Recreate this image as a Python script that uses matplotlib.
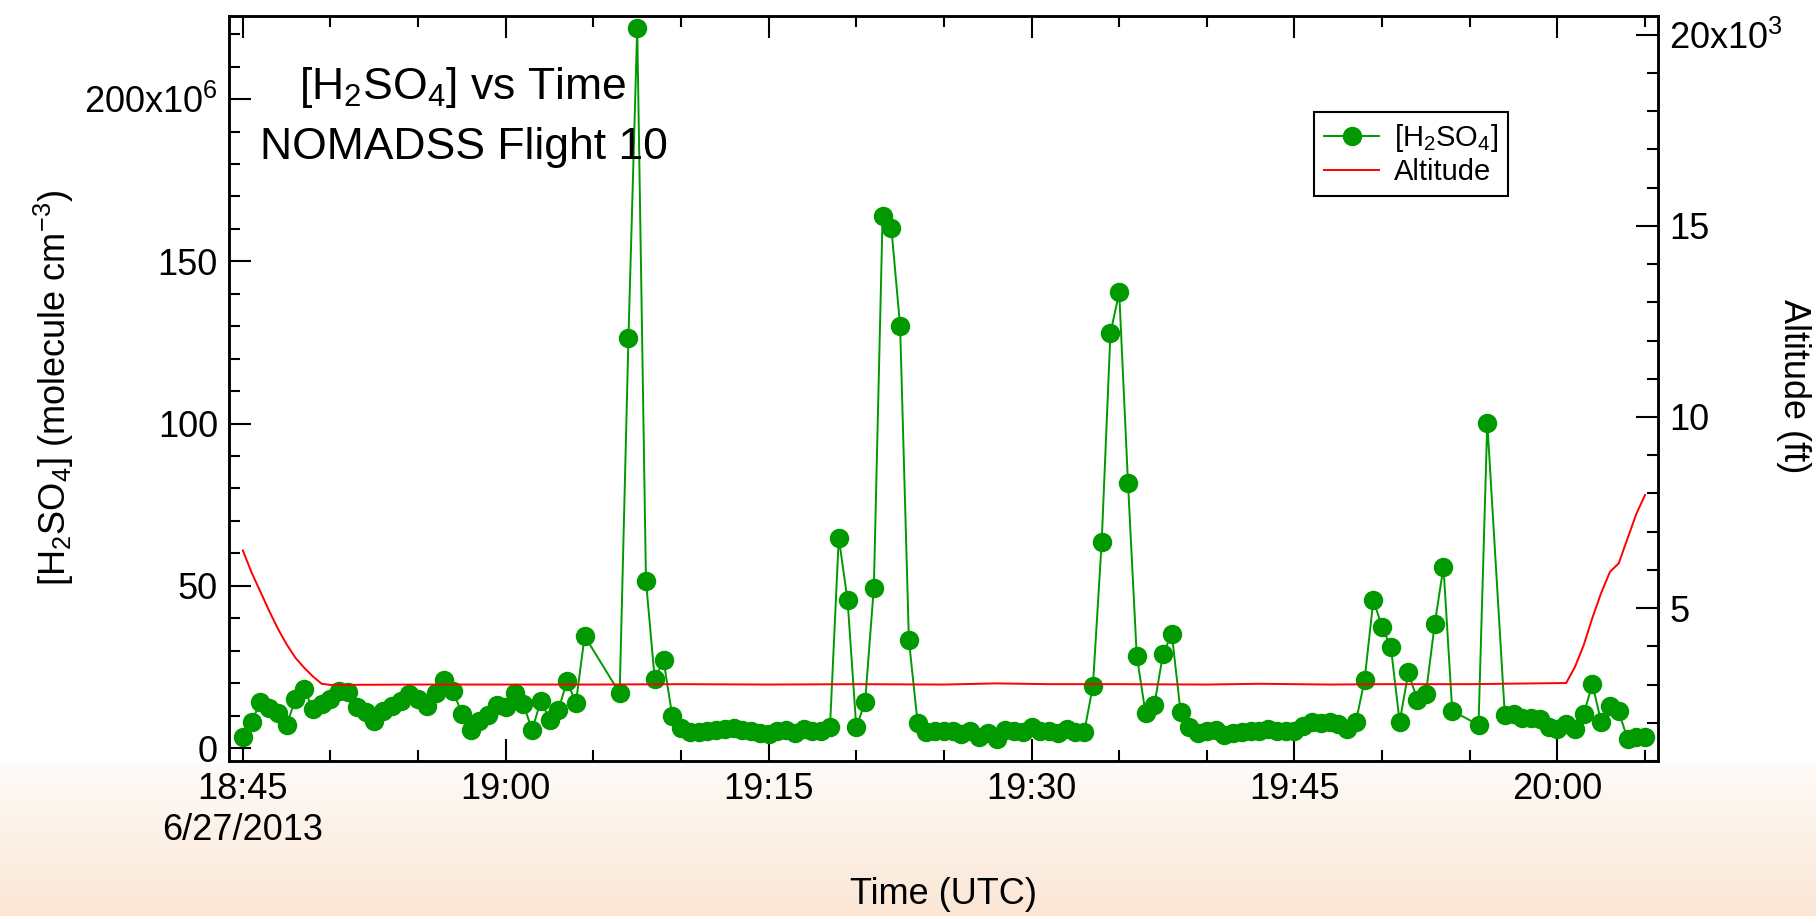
import numpy as np
import matplotlib.pyplot as plt
from matplotlib.ticker import MultipleLocator, FixedLocator, FuncFormatter

plt.rcParams['font.family'] = ['Liberation Sans', 'DejaVu Sans']
plt.rcParams['mathtext.fontset'] = 'custom'
plt.rcParams['mathtext.rm'] = 'Liberation Sans'
plt.rcParams['mathtext.it'] = 'Liberation Sans:italic'
plt.rcParams['mathtext.bf'] = 'Liberation Sans:bold'

# minutes after 18:45 UTC on 6/27/2013
h2so4_time = [0.0, 0.5, 1.0, 1.5, 2.0, 2.5, 3.0, 3.5, 4.0, 4.5,
              5.0, 5.5, 6.0, 6.5, 7.0, 7.5, 8.0, 8.5, 9.0, 9.5,
              10.0, 10.5, 11.0, 11.5, 12.0, 12.5, 13.0, 13.5, 14.0, 14.5,
              15.0, 15.5, 16.0, 16.5, 17.0, 17.5, 18.0, 18.5, 19.0, 19.5,
              21.5, 22.0, 22.5, 23.0, 23.5, 24.0, 24.5,
              25.0, 25.5, 26.0, 26.5, 27.0, 27.5, 28.0, 28.5, 29.0, 29.5,
              30.0, 30.5, 31.0, 31.5, 32.0, 32.5, 33.0, 33.5, 34.0, 34.5,
              35.0, 35.5, 36.0, 36.5, 37.0, 37.5, 38.0, 38.5, 39.0, 39.5,
              40.0, 40.5, 41.0, 41.5, 42.0, 42.5, 43.0, 43.5, 44.0, 44.5,
              45.0, 45.5, 46.0, 46.5, 47.0, 47.5, 48.0, 48.5, 49.0, 49.5,
              50.0, 50.5, 51.0, 51.5, 52.0, 52.5, 53.0, 53.5, 54.0, 54.5,
              55.0, 55.5, 56.0, 56.5, 57.0, 57.5, 58.0, 58.5, 59.0, 59.5,
              60.0, 60.5, 61.0, 61.5, 62.0, 62.5, 63.0, 63.5, 64.0, 64.5,
              65.0, 65.5, 66.0, 66.5, 67.0, 67.5, 68.0, 68.5, 69.0,
              70.5, 71.0, 72.0, 72.5, 73.0, 73.5, 74.0, 74.5,
              75.0, 75.5, 76.0, 76.5, 77.0, 77.5, 78.0, 78.5, 79.0, 79.5, 80.0]

# [H2SO4] in 1e6 molecule cm-3
h2so4_val = [3.3, 7.9, 14.3, 12.3, 10.8, 7.1, 15.1, 18.2, 12.0, 13.5,
             15.1, 17.6, 17.4, 12.5, 11.0, 8.4, 11.3, 12.8, 14.6, 16.6,
             15.1, 12.8, 17.1, 21.0, 17.6, 10.5, 5.6, 8.4, 10.2, 13.2,
             12.5, 16.9, 13.7, 5.5, 14.6, 8.7, 11.7, 20.7, 13.8, 34.5,
             16.9, 126.4, 222.0, 51.5, 21.2, 27.1, 9.9,
             6.1, 5.0, 5.0, 5.3, 5.6, 5.8, 6.2, 5.5, 5.3, 4.6,
             4.3, 5.3, 5.5, 4.6, 5.8, 5.1, 5.1, 6.6, 64.8, 45.6,
             6.4, 14.1, 49.4, 163.9, 160.2, 130.0, 33.3, 7.7, 5.0, 5.1,
             5.3, 5.3, 4.3, 5.1, 3.5, 4.6, 2.8, 5.5, 5.1, 5.0,
             6.6, 5.3, 5.3, 4.6, 5.8, 4.8, 4.8, 19.2, 63.5, 127.9,
             140.4, 81.8, 28.5, 10.8, 13.2, 28.9, 35.2, 11.2, 6.4, 4.6,
             5.1, 5.6, 4.0, 4.6, 4.8, 5.1, 5.3, 5.8, 5.3, 5.1,
             5.3, 6.9, 7.9, 7.7, 7.9, 7.4, 5.8, 7.9, 21.0, 45.6,
             37.3, 31.0, 8.1, 23.3, 14.9, 16.8, 38.2, 55.8, 11.5,
             7.1, 100.3, 10.2, 10.5, 9.4, 9.4, 8.9, 6.4,
             5.8, 7.4, 5.8, 10.5, 19.7, 7.9, 13.0, 11.3, 2.8, 3.3, 3.3]

alt_time = [0.0, 0.5, 1.0, 1.5, 2.0, 2.5, 3.0, 3.5, 4.0, 4.5, 5.0,
            10.0, 15.0, 20.0, 25.0, 30.0, 35.0, 40.0, 43.0, 46.0, 50.0,
            55.0, 58.0, 62.0, 65.0, 70.0, 75.5, 76.0, 76.5, 77.0, 77.5,
            78.0, 78.5, 79.0, 79.5, 80.0]
alt_ft = [6510, 5930, 5430, 4930, 4460, 4050, 3700, 3440, 3210, 3020, 2990,
          3000, 3000, 3000, 3010, 3000, 3010, 3000, 3030, 3010, 3010,
          3000, 3020, 3000, 3010, 3010, 3040, 3460, 4030, 4750, 5400,
          5950, 6170, 6820, 7460, 7960]

tick_pos = [0, 15, 30, 45, 60, 75]
tick_lab = ['18:45\n6/27/2013', '19:00', '19:15', '19:30', '19:45', '20:00']

GREEN = '#009900'

fig = plt.figure(figsize=(18.16, 9.16), dpi=100)

# peach gradient strip at the bottom
bg = fig.add_axes([0, 0, 1, 0.168], zorder=-10)
top_c = np.array([254, 251, 248]) / 255
bot_c = np.array([251, 230, 213]) / 255
frac = np.linspace(0, 1, 200)[:, None, None]
bg.imshow(top_c + (bot_c - top_c) * frac, aspect='auto', extent=[0, 1, 0, 1])
bg.axis('off')

ax = fig.add_axes([229/1816, 1 - 761/916, (1658-229)/1816, (761-16)/916])
ax.plot(h2so4_time, h2so4_val, '-o', color=GREEN, lw=1.4, ms=13,
        mec=GREEN, label=r'[H$_2$SO$_4$]')
ax.set_xlim(-0.79, 80.74)
ax.set_ylim(-4.0, 225.6)

ax2 = ax.twinx()
ax2.plot(alt_time, alt_ft, color='red', lw=1.4, label='Altitude')
ax2.set_ylim(1000, 20490)

ax.xaxis.set_major_locator(FixedLocator(tick_pos))
ax.set_xticklabels(tick_lab)
ax.xaxis.set_minor_locator(MultipleLocator(5))
ax.yaxis.set_major_locator(MultipleLocator(50))
ax.yaxis.set_minor_locator(MultipleLocator(10))
ax.yaxis.set_major_formatter(FuncFormatter(
    lambda v, p: r'200x10$^{6}$' if round(v) == 200 else f'{v:.0f}'))

ax2.yaxis.set_major_locator(MultipleLocator(5000))
ax2.yaxis.set_minor_locator(MultipleLocator(1000))
ax2.yaxis.set_major_formatter(FuncFormatter(
    lambda v, p: r'20x10$^{3}$' if round(v) == 20000 else f'{v/1000:.0f}'))

for a in (ax, ax2):
    a.tick_params(which='both', direction='in', labelsize=26, width=1.5)
    a.tick_params(which='major', length=16, pad=8)
    a.tick_params(which='minor', length=8)
    for s in a.spines.values():
        s.set_linewidth(1.8)
ax.tick_params(axis='x', which='both', top=True)

fig.text(943.5/1816, 1 - 894/916, 'Time (UTC)', fontsize=26, ha='center', va='center')
fig.text(54/1816, 1 - 388/916, r'[H$_2$SO$_4$] (molecule cm$^{-3}$)', fontsize=26,
         rotation=90, ha='center', va='center')
fig.text(1793/1816, 1 - 386/916, 'Altitude (ft)', fontsize=26,
         rotation=270, ha='center', va='center')

fig.text(463/1816, 1 - 87/916, r'[H$_2$SO$_4$] vs Time', fontsize=32, ha='center', va='center')
fig.text(464/1816, 1 - 147/916, 'NOMADSS Flight 10', fontsize=32, ha='center', va='center')

h1, l1 = ax.get_legend_handles_labels()
h2, l2 = ax2.get_legend_handles_labels()
leg = ax2.legend(h1 + h2, l1 + l2, loc='upper left', bbox_to_anchor=(0.759, 0.8716),
                 fontsize=21, frameon=True, fancybox=False, edgecolor='black',
                 framealpha=1, handlelength=1.9, handletextpad=0.5,
                 labelspacing=0.15, borderpad=0.35, borderaxespad=0)
leg.get_frame().set_linewidth(1.5)

fig.savefig('out.png', dpi=100)
